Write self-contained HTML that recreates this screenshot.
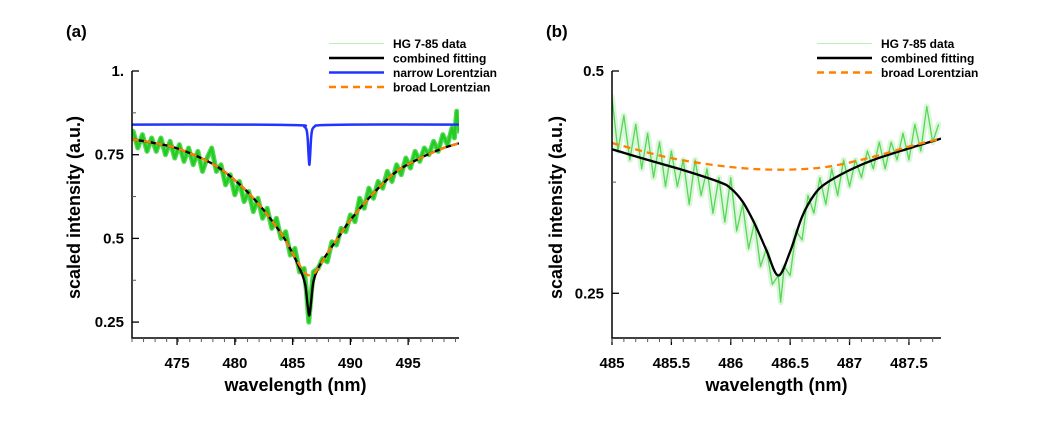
<!DOCTYPE html>
<html><head><meta charset="utf-8"><style>
html,body{margin:0;padding:0;background:#fff;}
svg{display:block;font-family:"Liberation Sans",Arial,sans-serif;font-weight:bold;}
</style></head><body>
<svg id="chart" width="1037" height="429" viewBox="0 0 1037 429"></svg>
<script>
// ---------- Panel (a) data ----------
const aDataX=[471.2,471.6,472.0,472.4,472.8,473.2,473.6,474.0,474.4,474.8,475.2,475.6,476.0,476.4,476.8,477.2,477.6,478.0,478.4,478.8,479.2,479.6,480.0,480.4,480.8,481.2,481.6,482.0,482.4,482.8,483.2,483.6,484.0,484.4,484.8,485.2,485.6,486.0,486.2,486.4,486.6,486.8,487.2,487.6,488.0,488.4,488.8,489.2,489.6,490.0,490.4,490.8,491.2,491.6,492.0,492.4,492.8,493.2,493.6,494.0,494.4,494.8,495.2,495.6,496.0,496.4,496.8,497.2,497.6,498.0,498.4,498.8,499.0,499.2,499.4];
const aDataY=[.82,.77,.81,.76,.80,.76,.80,.75,.79,.74,.78,.73,.77,.72,.76,.70,.74,.77,.70,.72,.66,.69,.63,.67,.61,.64,.58,.62,.56,.59,.53,.56,.50,.52,.45,.47,.40,.41,.34,.25,.33,.40,.41,.44,.43,.49,.48,.53,.52,.57,.55,.62,.59,.65,.62,.67,.65,.70,.67,.72,.69,.74,.71,.76,.73,.77,.75,.79,.76,.81,.78,.83,.80,.88,.82];
const aBroadX=[471.1,473,475,478,480,482,484,485,486,486.5,487,488,489,490,492,494,496,498,499.4];
const aBroadY=[.796,.785,.769,.724,.674,.605,.515,.455,.40,.39,.40,.455,.505,.555,.635,.70,.739,.769,.784];
const aCombX=[471.1,473,475,478,480,482,484,485,485.8,486.1,486.3,486.45,486.6,486.8,487.2,488,489,490,492,494,496,498,499.4];
const aCombY=[.796,.785,.769,.724,.674,.605,.515,.455,.395,.36,.30,.27,.31,.37,.41,.455,.505,.555,.635,.70,.739,.769,.784];
const aNarrowX=[471.1,480,485.6,486.0,486.2,486.3,486.38,486.45,486.52,486.6,486.7,486.9,487.3,490,499.4];
const aNarrowY=[.84,.84,.838,.834,.825,.80,.75,.72,.75,.80,.825,.834,.838,.84,.84];
const aXTicks=[475,480,485,490,495];
const aYTicks=[0.25,0.5,0.75,1];
const aYTickLabels=["0.25","0.5","0.75","1."];
// ---------- Panel (b) data ----------
const bDataX=[485.00,485.05,485.10,485.15,485.20,485.25,485.30,485.35,485.40,485.45,485.50,485.55,485.60,485.65,485.70,485.75,485.80,485.85,485.90,485.95,486.00,486.05,486.10,486.15,486.20,486.25,486.30,486.35,486.40,486.42,486.45,486.50,486.55,486.60,486.65,486.70,486.75,486.80,486.85,486.90,486.95,487.00,487.05,487.10,487.15,487.20,487.25,487.30,487.35,487.40,487.45,487.50,487.55,487.60,487.65,487.70,487.75];
const bDataY=[.47,.41,.45,.40,.44,.39,.43,.38,.42,.37,.41,.37,.40,.35,.40,.36,.39,.34,.38,.33,.38,.32,.35,.30,.33,.28,.30,.26,.27,.24,.28,.27,.32,.31,.36,.34,.38,.35,.39,.36,.40,.37,.40,.38,.41,.39,.42,.39,.42,.40,.43,.40,.44,.41,.46,.42,.44];
const bBroadX=[485,485.5,486,486.4,486.8,487.2,487.5,487.77];
const bBroadY=[.419,.402,.392,.389,.392,.4035,.415,.424];
const bCombX=[485,485.3,485.6,485.9,486.0,486.1,486.2,486.3,486.4,486.5,486.6,486.7,486.8,487.0,487.2,487.5,487.77];
const bCombY=[.412,.40,.3885,.3753,.368,.353,.3285,.2985,.27,.297,.336,.3603,.3735,.3885,.40,.413,.424];
const bXTicks=[485,485.5,486,486.5,487,487.5];
const bXTickLabels=["485","485.5","486","486.5","487","487.5"];
const bYTicks=[0.25,0.5];
const bYTickLabels=["0.25","0.5"];

const NS="http://www.w3.org/2000/svg";
const svg=document.getElementById('chart');
function mk(tag,attrs,parent){const e=document.createElementNS(NS,tag);for(const k in attrs)e.setAttribute(k,attrs[k]);(parent||svg).appendChild(e);return e;}
function smooth(pts){let d="M"+pts[0][0].toFixed(2)+","+pts[0][1].toFixed(2);
 for(let i=0;i<pts.length-1;i++){const p0=pts[Math.max(0,i-1)],p1=pts[i],p2=pts[i+1],p3=pts[Math.min(pts.length-1,i+2)];
  const c1=[p1[0]+(p2[0]-p0[0])/6,p1[1]+(p2[1]-p0[1])/6],c2=[p2[0]-(p3[0]-p1[0])/6,p2[1]-(p3[1]-p1[1])/6];
  d+=" C"+c1[0].toFixed(2)+","+c1[1].toFixed(2)+" "+c2[0].toFixed(2)+","+c2[1].toFixed(2)+" "+p2[0].toFixed(2)+","+p2[1].toFixed(2);}
 return d;}

function panel(o){
 const g=mk('g',{});
 
 
 const X=v=>o.L+(v-o.x0)/(o.x1-o.x0)*(o.R-o.L);
 const Y=v=>o.B-(v-o.y0)/(o.y1-o.y0)*(o.B-o.T);
 const clipId=o.name+"-clip";
 const cp=mk('clipPath',{id:clipId},g);mk('rect',{x:o.L,y:o.T-30,width:o.R-o.L,height:o.B-o.T+30},cp);
 const plot=mk('g',{'clip-path':'url(#'+clipId+')'},g);
 const pts=o.dx.map((x,i)=>X(x).toFixed(2)+","+Y(o.dy[i]).toFixed(2)).join(" ");
 const band=mk('polyline',{points:pts,fill:'none',stroke:o.bandColor,'stroke-width':o.bandW,'stroke-linejoin':'round','stroke-linecap':'round'},plot);
 
 
 const dp=mk('polyline',{points:pts,fill:'none',stroke:o.dataColor,'stroke-width':o.dataW,'stroke-linejoin':'round'},plot);
 
 
 if(o.nx){const np=mk('path',{d:smooth(o.nx.map((x,i)=>[X(x),Y(o.ny[i])])),fill:'none',stroke:'#2233ff','stroke-width':2.5},plot);
  
  }
 const cpth=mk('path',{d:smooth(o.cx.map((x,i)=>[X(x),Y(o.cy[i])])),fill:'none',stroke:'#000','stroke-width':2.3},plot);
 
 
 const bp=mk('path',{d:smooth(o.bx.map((x,i)=>[X(x),Y(o.by[i])])),fill:'none',stroke:'#ff8000','stroke-width':2.3,'stroke-dasharray':'7,5'},plot);
 
 
 const ax=mk('path',{d:`M${o.L},${o.T} V${o.B} H${o.R}`,fill:'none',stroke:'#000','stroke-width':1.5},g);
 
 
 o.xt.forEach((v,i)=>{mk('line',{x1:X(v),x2:X(v),y1:o.B,y2:o.B+7,stroke:'#000','stroke-width':1.3},g);
  const t=mk('text',{x:X(v),y:o.B+30,'text-anchor':'middle','font-size':15},g);t.textContent=o.xtl[i];
  
  });
 for(let v=o.x0;v<=o.x1+1e-9;v+=o.xm){mk('line',{x1:X(v),x2:X(v),y1:o.B,y2:o.B+4,stroke:'#555','stroke-width':1},g);}
 o.yt.forEach((v,i)=>{mk('line',{x1:o.L,x2:o.L+7,y1:Y(v),y2:Y(v),stroke:'#000','stroke-width':1.3},g);
  const t=mk('text',{x:o.L-8,y:Y(v)+5,'text-anchor':'end','font-size':15},g);t.textContent=o.ytl[i];
  
  });
 o.ym.forEach(v=>mk('line',{x1:o.L,x2:o.L+4,y1:Y(v),y2:Y(v),stroke:'#555','stroke-width':1},g));
 const xl=mk('text',{x:(o.L+o.R)/2,y:391,'text-anchor':'middle','font-size':18},g);xl.textContent="wavelength (nm)";
 
 
 const yl=mk('text',{x:0,y:0,'text-anchor':'middle','font-size':18,transform:`translate(${o.ylx},${(o.T+o.B)/2+3}) rotate(-90)`},g);yl.textContent="scaled intensity (a.u.)";
 
 
 const pl=mk('text',{x:o.labX,y:37,'font-size':17},g);pl.textContent=o.label;
 
 
 o.leg.forEach((e,i)=>{const y=43.5+i*14.5;
  const ln=mk('line',{x1:o.legX,x2:o.legX+55,y1:y,y2:y,stroke:e[1],'stroke-width':e[2],'stroke-dasharray':e[3]||'none'},g);
  
  
  const t=mk('text',{x:o.legX+64,y:y+4.5,'font-size':12},g);t.textContent=e[0];
  
  });
}
panel({name:'panel-a',L:132,R:459,T:71,B:338,x0:471.1,x1:499.4,y0:0.2025,y1:1.0,
 dx:aDataX,dy:aDataY,dataColor:'#22cc22',dataW:2.4,bandColor:'#55d855',bandW:5,bx:aBroadX,by:aBroadY,cx:aCombX,cy:aCombY,nx:aNarrowX,ny:aNarrowY,
 xt:aXTicks,xtl:aXTicks.map(String),xm:1,yt:aYTicks,ytl:aYTickLabels,ym:[0.375,0.625,0.875],ylx:80,labX:66,label:'(a)',legX:329,
 leg:[["HG 7-85 data","#b8f0b8",1],["combined fitting","#000",2.5],["narrow Lorentzian","#2233ff",2.5],["broad Lorentzian","#ff8000",2.5,"7,5"]]});
panel({name:'panel-b',L:612,R:941,T:71,B:338,x0:485,x1:487.77,y0:0.1997,y1:0.5,
 dx:bDataX,dy:bDataY,dataColor:'#55d855',dataW:1.3,bandColor:'#dcf6dc',bandW:6,bx:bBroadX,by:bBroadY,cx:bCombX,cy:bCombY,
 xt:bXTicks,xtl:bXTickLabels,xm:0.1,yt:bYTicks,ytl:bYTickLabels,ym:[0.375],ylx:562,labX:546,label:'(b)',legX:817,
 leg:[["HG 7-85 data","#b8f0b8",1],["combined fitting","#000",2.5],["broad Lorentzian","#ff8000",2.5,"7,5"]]});
</script>
</body></html>
